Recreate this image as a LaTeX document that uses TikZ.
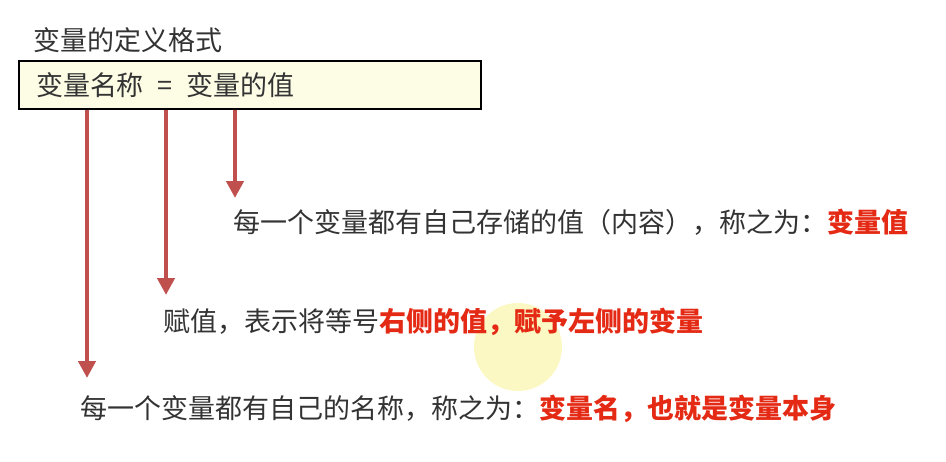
\documentclass[tikz,border=0pt]{standalone}
\usepackage{fontspec}
\setmainfont{Noto Sans CJK SC}
\usetikzlibrary{arrows.meta}
\definecolor{txtgray}{HTML}{333333}
\definecolor{hired}{HTML}{E42A14}
\definecolor{arrred}{HTML}{C0504D}
\definecolor{boxfill}{HTML}{FDFDE6}
\definecolor{spot}{HTML}{FCF8C4}
\newcommand{\hl}[1]{\textcolor{hired}{\bfseries #1}}

\begin{document}
\begin{tikzpicture}[x=1pt,y=-1pt,
    every node/.style={font=\fontsize{27}{32}\selectfont, text=txtgray, inner sep=0pt},
    formbox/.style={draw=black, line width=2pt, fill=boxfill, anchor=north west,
        text width=428pt, inner xsep=17pt, minimum height=48pt, align=left},
    arr/.style={arrred, line width=4.5pt, -{Triangle[width=17pt,length=17pt]}}]
    \useasboundingbox (0,0) rectangle (946,461);
    % cursor spot
    \fill[spot] (518,347) circle (44);
    \node[anchor=west] (title) at (33,40) {变量的定义格式};
    \node[formbox] (box) at (18,60) {变量名称\hspace{14pt}=\hspace{14pt}变量的值};
    \coordinate (nametip) at (87,378);
    \coordinate (assigntip) at (166,295);
    \coordinate (valtip) at (235,198);
    \draw[arr] (box.south -| valtip) -- (valtip);
    \draw[arr] (box.south -| assigntip) -- (assigntip);
    \draw[arr] (box.south -| nametip) -- (nametip);
    \node[anchor=west] (valtext) at (233,222)
        {每一个变量都有自己存储的值（内容），称之为：\hl{变量值}};
    \node[anchor=west] (assigntext) at (163,322)
        {赋值，表示将等号\hl{右侧的值，赋予左侧的变量}};
    \node[anchor=west] (nametext) at (80,409)
        {每一个变量都有自己的名称，称之为：\hl{变量名，也就是变量本身}};
\end{tikzpicture}
\end{document}
